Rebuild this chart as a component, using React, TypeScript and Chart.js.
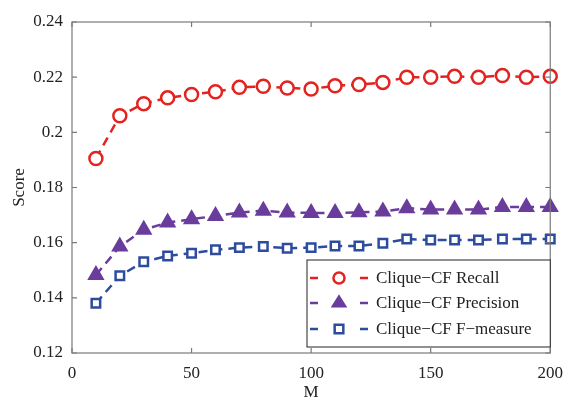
import React, { useEffect, useRef } from "react";
import { Chart, registerables } from "chart.js";

Chart.register(...registerables);

const M = [10, 20, 30, 40, 50, 60, 70, 80, 90, 100, 110, 120, 130, 140, 150, 160, 170, 180, 190, 200];
const recall = [0.1905, 0.206, 0.2104, 0.2125, 0.2137, 0.2147, 0.2163, 0.2167, 0.2161, 0.2157, 0.2169, 0.2173, 0.2181, 0.22, 0.22, 0.2203, 0.22, 0.2206, 0.22, 0.2203];
const precision = [0.1483, 0.1586, 0.1647, 0.1673, 0.1685, 0.1697, 0.1709, 0.1716, 0.1709, 0.1708, 0.1708, 0.171, 0.1713, 0.1725, 0.172, 0.172, 0.172, 0.1729, 0.1729, 0.1729];
const fmeasure = [0.138, 0.148, 0.1531, 0.1552, 0.1562, 0.1574, 0.1582, 0.1586, 0.158, 0.1582, 0.1588, 0.1588, 0.1598, 0.1613, 0.161, 0.161, 0.161, 0.1613, 0.1613, 0.1613];
const seriesNames = ["Clique\u2212CF Recall", "Clique\u2212CF Precision", "Clique\u2212CF F\u2212measure"];
const xTicks = [0, 50, 100, 150, 200];

const RED = "#e3231f";
const PURPLE = "#6a3c9c";
const BLUE = "#2e4c9e";
const FONT = "'Liberation Serif', 'DejaVu Serif', serif";

const styles = [
  { color: RED, point: "circle", radius: 6.5, fill: "#ffffff" },
  { color: PURPLE, point: "triangle", radius: 7.5, fill: PURPLE },
  { color: BLUE, point: "rect", radius: 6, fill: "#ffffff" },
];

function drawMarker(ctx: CanvasRenderingContext2D, kind: string, x: number, y: number, r: number, color: string, fill: string) {
  ctx.save();
  ctx.setLineDash([]);
  ctx.strokeStyle = color;
  ctx.fillStyle = fill;
  ctx.lineWidth = 2.5;
  ctx.beginPath();
  if (kind === "circle") {
    ctx.arc(x, y, r, 0, Math.PI * 2);
  } else if (kind === "triangle") {
    const h = r * 1.5;
    ctx.moveTo(x, y - r);
    ctx.lineTo(x + r * 0.95, y + h - r);
    ctx.lineTo(x - r * 0.95, y + h - r);
    ctx.closePath();
  } else {
    const s = r / Math.SQRT2 * 1.2;
    ctx.rect(x - s, y - s, 2 * s, 2 * s);
  }
  ctx.fill();
  ctx.stroke();
  ctx.restore();
}

const framePlugin = {
  id: "frame",
  afterDraw(chart: any) {
    const ctx = chart.ctx as CanvasRenderingContext2D;
    const { left, right, top, bottom } = chart.chartArea;
    const xs = chart.scales.x;
    const ys = chart.scales.y;
    ctx.save();
    ctx.strokeStyle = "#7a7a7a";
    ctx.lineWidth = 1.2;
    ctx.strokeRect(left, top, right - left, bottom - top);
    ctx.beginPath();
    xs.ticks.forEach((t: any) => {
      const px = xs.getPixelForValue(t.value);
      ctx.moveTo(px, bottom);
      ctx.lineTo(px, bottom - 5);
      ctx.moveTo(px, top);
      ctx.lineTo(px, top + 5);
    });
    ys.ticks.forEach((t: any) => {
      const py = ys.getPixelForValue(t.value);
      ctx.moveTo(left, py);
      ctx.lineTo(left + 5, py);
      ctx.moveTo(right, py);
      ctx.lineTo(right - 5, py);
    });
    ctx.stroke();

    // legend box
    const bx = 307, by = 260, bw = right - bx, bh = 87;
    ctx.fillStyle = "#ffffff";
    ctx.fillRect(bx, by, bw, bh);
    ctx.strokeStyle = "#222";
    ctx.lineWidth = 1;
    ctx.strokeRect(bx, by, bw, bh);
    const rows = [278, 303, 329];
    ctx.font = `17px ${FONT}`;
    ctx.textBaseline = "middle";
    seriesNames.forEach((name, i) => {
      const s = styles[i];
      const y = rows[i];
      ctx.strokeStyle = s.color;
      ctx.lineWidth = 2.5;
      ctx.setLineDash([]);
      ctx.beginPath();
      ctx.moveTo(310, y);
      ctx.lineTo(318, y);
      ctx.moveTo(360, y);
      ctx.lineTo(368, y);
      ctx.stroke();
      drawMarker(ctx, s.point, 339, y, s.radius * 0.85, s.color, s.fill);
      ctx.fillStyle = "#222";
      ctx.fillText(name, 376, y + 1);
    });
    ctx.restore();
  },
};

export default function App() {
  const ref = useRef<HTMLCanvasElement | null>(null);
  useEffect(() => {
    if (!ref.current) return;
    const data = [recall, precision, fmeasure];
    const chart = new Chart(ref.current, {
      type: "line",
      data: {
        datasets: data.map((vals, i) => ({
          label: seriesNames[i],
          data: M.map((m, j) => ({ x: m, y: vals[j] })),
          borderColor: styles[i].color,
          backgroundColor: styles[i].fill,
          borderWidth: 2.5,
          borderDash: [9, 6],
          pointStyle: styles[i].point as any,
          pointRadius: styles[i].radius,
          pointBorderWidth: 2.5,
          pointBackgroundColor: styles[i].fill,
          pointBorderColor: styles[i].color,
          tension: 0,
          clip: false as any,
        })),
      },
      options: {
        animation: false,
        responsive: false,
        maintainAspectRatio: false,
        layout: { padding: { top: 22, right: 14, left: 0, bottom: 0 } },
        plugins: { legend: { display: false }, tooltip: { enabled: false } },
        scales: {
          x: {
            type: "linear",
            min: 0,
            max: 200,
            afterBuildTicks: (s: any) => {
              s.ticks = xTicks.map((v) => ({ value: v }));
            },
            grid: { display: false, drawTicks: false },
            border: { display: false },
            ticks: { color: "#222", font: { family: FONT, size: 17 }, padding: 10, maxRotation: 0 },
            title: { display: true, text: "M", color: "#222", font: { family: FONT, size: 17 }, padding: { top: 0, bottom: 0 } },
            afterFit: (s: any) => {
              s.height = 50;
            },
          },
          y: {
            type: "linear",
            min: 0.12,
            max: 0.24,
            ticks: {
              stepSize: 0.02,
              color: "#222",
              font: { family: FONT, size: 17 },
              padding: 9,
              callback: (v: any) => String(+Number(v).toFixed(2)),
            },
            grid: { display: false, drawTicks: false },
            border: { display: false },
            title: { display: true, text: "Score", color: "#222", font: { family: FONT, size: 17 }, padding: { top: 9, bottom: 0 } },
            afterFit: (s: any) => {
              s.width = 72;
            },
          },
        },
      },
      plugins: [framePlugin],
    });
    return () => chart.destroy();
  }, []);
  return (
    <div style={{ position: "fixed", left: 0, top: 0, width: 573, height: 403, background: "#fff" }}>
      <canvas ref={ref} width={573} height={403} style={{ display: "block" }} />
    </div>
  );
}
